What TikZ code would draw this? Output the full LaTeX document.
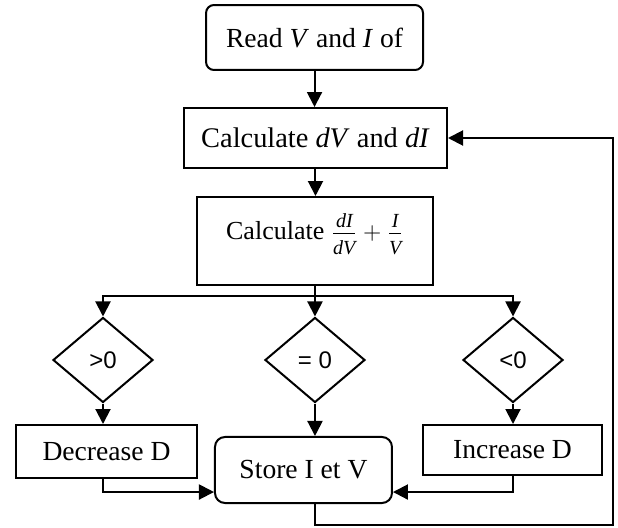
\documentclass[tikz,border=0pt]{standalone}
\usepackage{fontspec}
\setmainfont{Liberation Serif}
\setsansfont{Liberation Sans}
\usetikzlibrary{shapes.geometric,arrows.meta}
\newcommand{\numpart}[1]{\textit{\fontsize{10}{12}\selectfont #1}\rule[-2pt]{0pt}{2pt}}
\newcommand{\denpart}[1]{\rule{0pt}{10pt}\textit{\fontsize{10}{12}\selectfont #1}}

\begin{document}
\begin{tikzpicture}[font=\fontsize{13.8}{16}\selectfont,
  box/.style={draw, line width=1pt, inner sep=0pt},
  rbox/.style={box, rounded corners=4pt},
  cond/.style={draw, line width=1pt, diamond, inner sep=0pt,
    minimum width=1.757cm, minimum height=1.494cm,
    font=\sffamily\fontsize{12}{14}\selectfont},
  arr/.style={line width=1pt, -{Triangle[length=7.5pt,width=7.5pt]}}]
  \useasboundingbox (0,0) rectangle (10.860,9.261);

  % main column
  \node[rbox, minimum width=3.813cm, minimum height=1.142cm] (read) at (5.527,8.602) {Read \textit{V} and \textit{I} of};
  \node[box, font=\fontsize{14.2}{16}\selectfont, minimum width=4.622cm, minimum height=1.054cm] (calc) at (5.544,6.836) {Calculate \textit{dV} and \textit{dI}};
  \node[box, font=\fontsize{13}{15}\selectfont, minimum width=4.147cm, text height=21pt, text depth=23pt] (frac) at (5.535,5.026)
    {Calculate $\frac{\numpart{dI}}{\denpart{dV}}+\frac{\numpart{I}}{\denpart{V}}$};

  % the three tests
  \node[cond] (gt) at (1.810,2.935) {>0};
  \node[cond] (eq) at (5.535,2.935) {= 0};
  \node[cond] (lt) at (9.015,2.935) {<0};

  % actions
  \node[box, minimum width=3.181cm, minimum height=0.931cm] (decr) at (1.872,1.327) {Decrease D};
  \node[rbox, rounded corners=5pt, minimum width=3.110cm, minimum height=1.160cm] (store) at (5.333,1.002) {Store I et V};
  \node[box, minimum width=3.146cm, minimum height=0.879cm] (incr) at (9.006,1.353) {Increase D};

  \coordinate (br) at (5.535,4.059);
  \coordinate (jn) at (0,0.615);
  \coordinate (fb) at (10.772,0.03);

  \draw[arr] (read.south) -- (read.south |- calc.north);
  \draw[arr] (calc.south) -- (calc.south |- frac.north);
  \draw[arr] (frac.south) -- (frac.south |- eq.north);
  \draw[arr] (br) -| (gt.north);
  \draw[arr] (br) -| (lt.north);
  \draw[arr] (gt.south) -- (gt.south |- decr.north);
  \draw[arr] (eq.south) -- (eq.south |- store.north);
  \draw[arr] (lt.south) -- (lt.south |- incr.north);
  \draw[arr] (gt.south |- decr.south) |- (store.west |- jn);
  \draw[arr] (incr.south) |- (store.east |- jn);
  % loop back
  \draw[arr] (eq.south |- store.south) |- (fb) |- (calc.east);
\end{tikzpicture}
\end{document}
